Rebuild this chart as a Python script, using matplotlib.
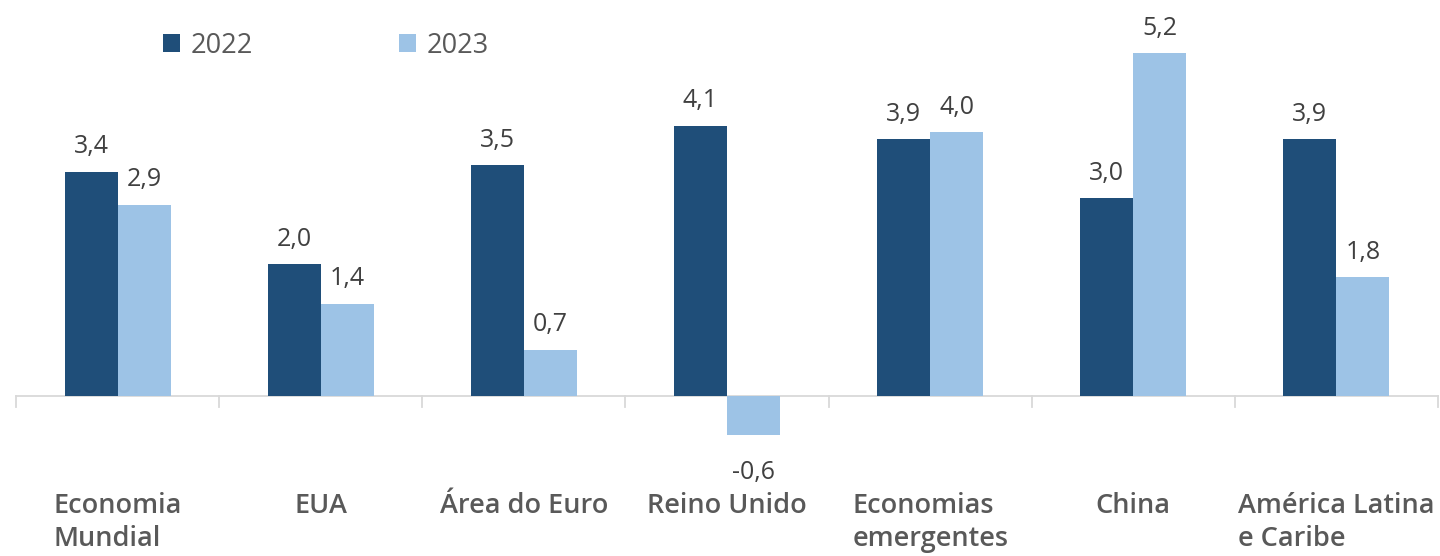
import matplotlib
matplotlib.use("Agg")
import matplotlib.pyplot as plt
import numpy as np

categories = ["Economia\nMundial", "EUA", "Área do Euro", "Reino Unido",
              "Economias\nemergentes", "China", "América Latina\ne Caribe"]
series_2022 = [3.4, 2.0, 3.5, 4.1, 3.9, 3.0, 3.9]
series_2023 = [2.9, 1.4, 0.7, -0.6, 4.0, 5.2, 1.8]
series_names = ["2022", "2023"]

c_dark = "#1F4E79"
c_light = "#9DC3E6"
txt = "#595959"
fam = ["Open Sans", "DejaVu Sans"]

fig = plt.figure(figsize=(14.4, 5.56), dpi=100)
ax = fig.add_axes([0, 0, 1, 1])
x = np.arange(len(categories))
w = 0.261
b1 = ax.bar(x - w / 2, series_2022, w, color=c_dark, label=series_names[0])
b2 = ax.bar(x + w / 2, series_2023, w, color=c_light, label=series_names[1])

ax.set_xlim(-0.579, 6.51)
ax.set_ylim(-2.43, 6.01)
ax.set_yticks([])
for s in ["top", "right", "left", "bottom"]:
    ax.spines[s].set_visible(False)
ax.axhline(0, xmin=(-0.5 + 0.579) / (6.51 + 0.579), xmax=(6.5 + 0.579) / (6.51 + 0.579),
           color="#D9D9D9", lw=1.3, zorder=0)
for b in np.arange(-0.5, 7.0, 1.0):
    ax.plot([b, b], [0, -0.17], color="#D9D9D9", lw=1.3, zorder=0)
ax.set_xticks([])

def fmt(v):
    return f"{v:.1f}".replace(".", ",")

for bars, vals in ((b1, series_2022), (b2, series_2023)):
    for r, v in zip(bars, vals):
        cx = r.get_x() + r.get_width() / 2
        if v >= 0:
            ax.annotate(fmt(v), (cx, v), xytext=(0, 9), textcoords="offset points",
                        ha="center", va="bottom", fontsize=18, color="#404040", family=fam)
        else:
            ax.annotate(fmt(v), (cx, v), xytext=(0, -18), textcoords="offset points",
                        ha="center", va="top", fontsize=18, color="#404040", family=fam)

for xi, lab in zip(x, categories):
    ax.text(xi, -1.459, lab, ha="center", va="top", multialignment="left",
            fontsize=19.5, color=txt, fontweight="semibold", family=fam, linespacing=1.25)

leg = ax.legend(loc="upper left", bbox_to_anchor=(0.1132, 0.943), ncol=2, frameon=False,
                prop={"family": fam, "size": 19.5}, handlelength=0.63, handleheight=0.63,
                columnspacing=5.4, handletextpad=0.38, labelcolor=txt,
                borderpad=0, borderaxespad=0)

fig.savefig("out.png", dpi=100)
